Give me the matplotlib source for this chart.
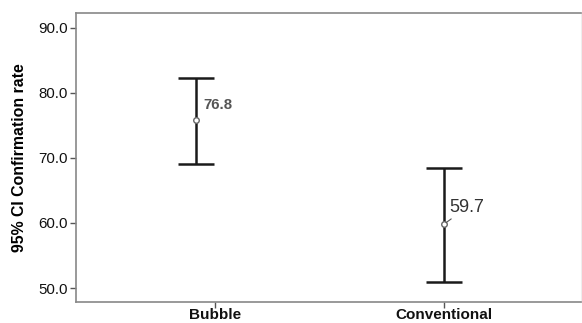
import matplotlib
matplotlib.use("Agg")
import matplotlib.pyplot as plt

categories = ["Bubble", "Conventional"]
means = [75.8, 59.8]
mean_labels = ["76.8", "59.7"]
ci_low = [69.1, 51.0]
ci_high = [82.3, 68.5]
y_ticks = [50.0, 60.0, 70.0, 80.0, 90.0]

plt.rcParams['font.family'] = ['Liberation Sans', 'DejaVu Sans']

fig = plt.figure(figsize=(5.82, 3.23), dpi=100)
ax = fig.add_axes([0.1306, 0.065, 0.8674, 0.895])

x_offsets = [-0.083, 0.0]
xs = [i + o for i, o in enumerate(x_offsets)]
yerr = [[m - lo for m, lo in zip(means, ci_low)], [hi - m for m, hi in zip(means, ci_high)]]
ax.errorbar(xs, means, yerr=yerr, fmt='none', ecolor='#1a1a1a', elinewidth=1.8,
            capsize=13, capthick=1.8, zorder=2)
ax.scatter(xs, means, s=16, facecolors='white', edgecolors='#666666', linewidths=1.0, zorder=3)

# labels
ax.annotate(mean_labels[0], xy=(xs[0], means[0]), xytext=(5, 11), textcoords='offset points',
            fontsize=10.8, fontweight='bold', color='#555555', ha='left', va='center')
ax.annotate(mean_labels[1], xy=(xs[1], means[1]), xytext=(4, 12), textcoords='offset points',
            fontsize=13, color='#333333', ha='left', va='center',
            arrowprops=dict(arrowstyle='-', color='#555555', lw=0.8, shrinkA=0, shrinkB=2))

ax.set_xlim(-0.61, 1.6)
ax.set_ylim(47.85, 92.3)
ax.set_xticks(range(len(categories)))
ax.set_xticklabels(categories, fontsize=11, fontweight='bold', color='#111111')
ax.set_yticks(y_ticks)
ax.set_yticklabels([f"{v:.1f}" for v in y_ticks], fontsize=10.8, color='#111111')
ax.set_ylabel("95% CI Confirmation rate", fontsize=11.4, fontweight='bold', labelpad=8)

for side in ['left', 'bottom', 'top']:
    ax.spines[side].set_color('#888888')
    ax.spines[side].set_linewidth(1.2)
ax.spines['right'].set_color('#eeeeee')
ax.tick_params(axis='both', direction='out', length=4, width=1, color='#555555', pad=2)
ax.tick_params(axis='x', pad=0.5)

fig.savefig("out.png", dpi=100)
